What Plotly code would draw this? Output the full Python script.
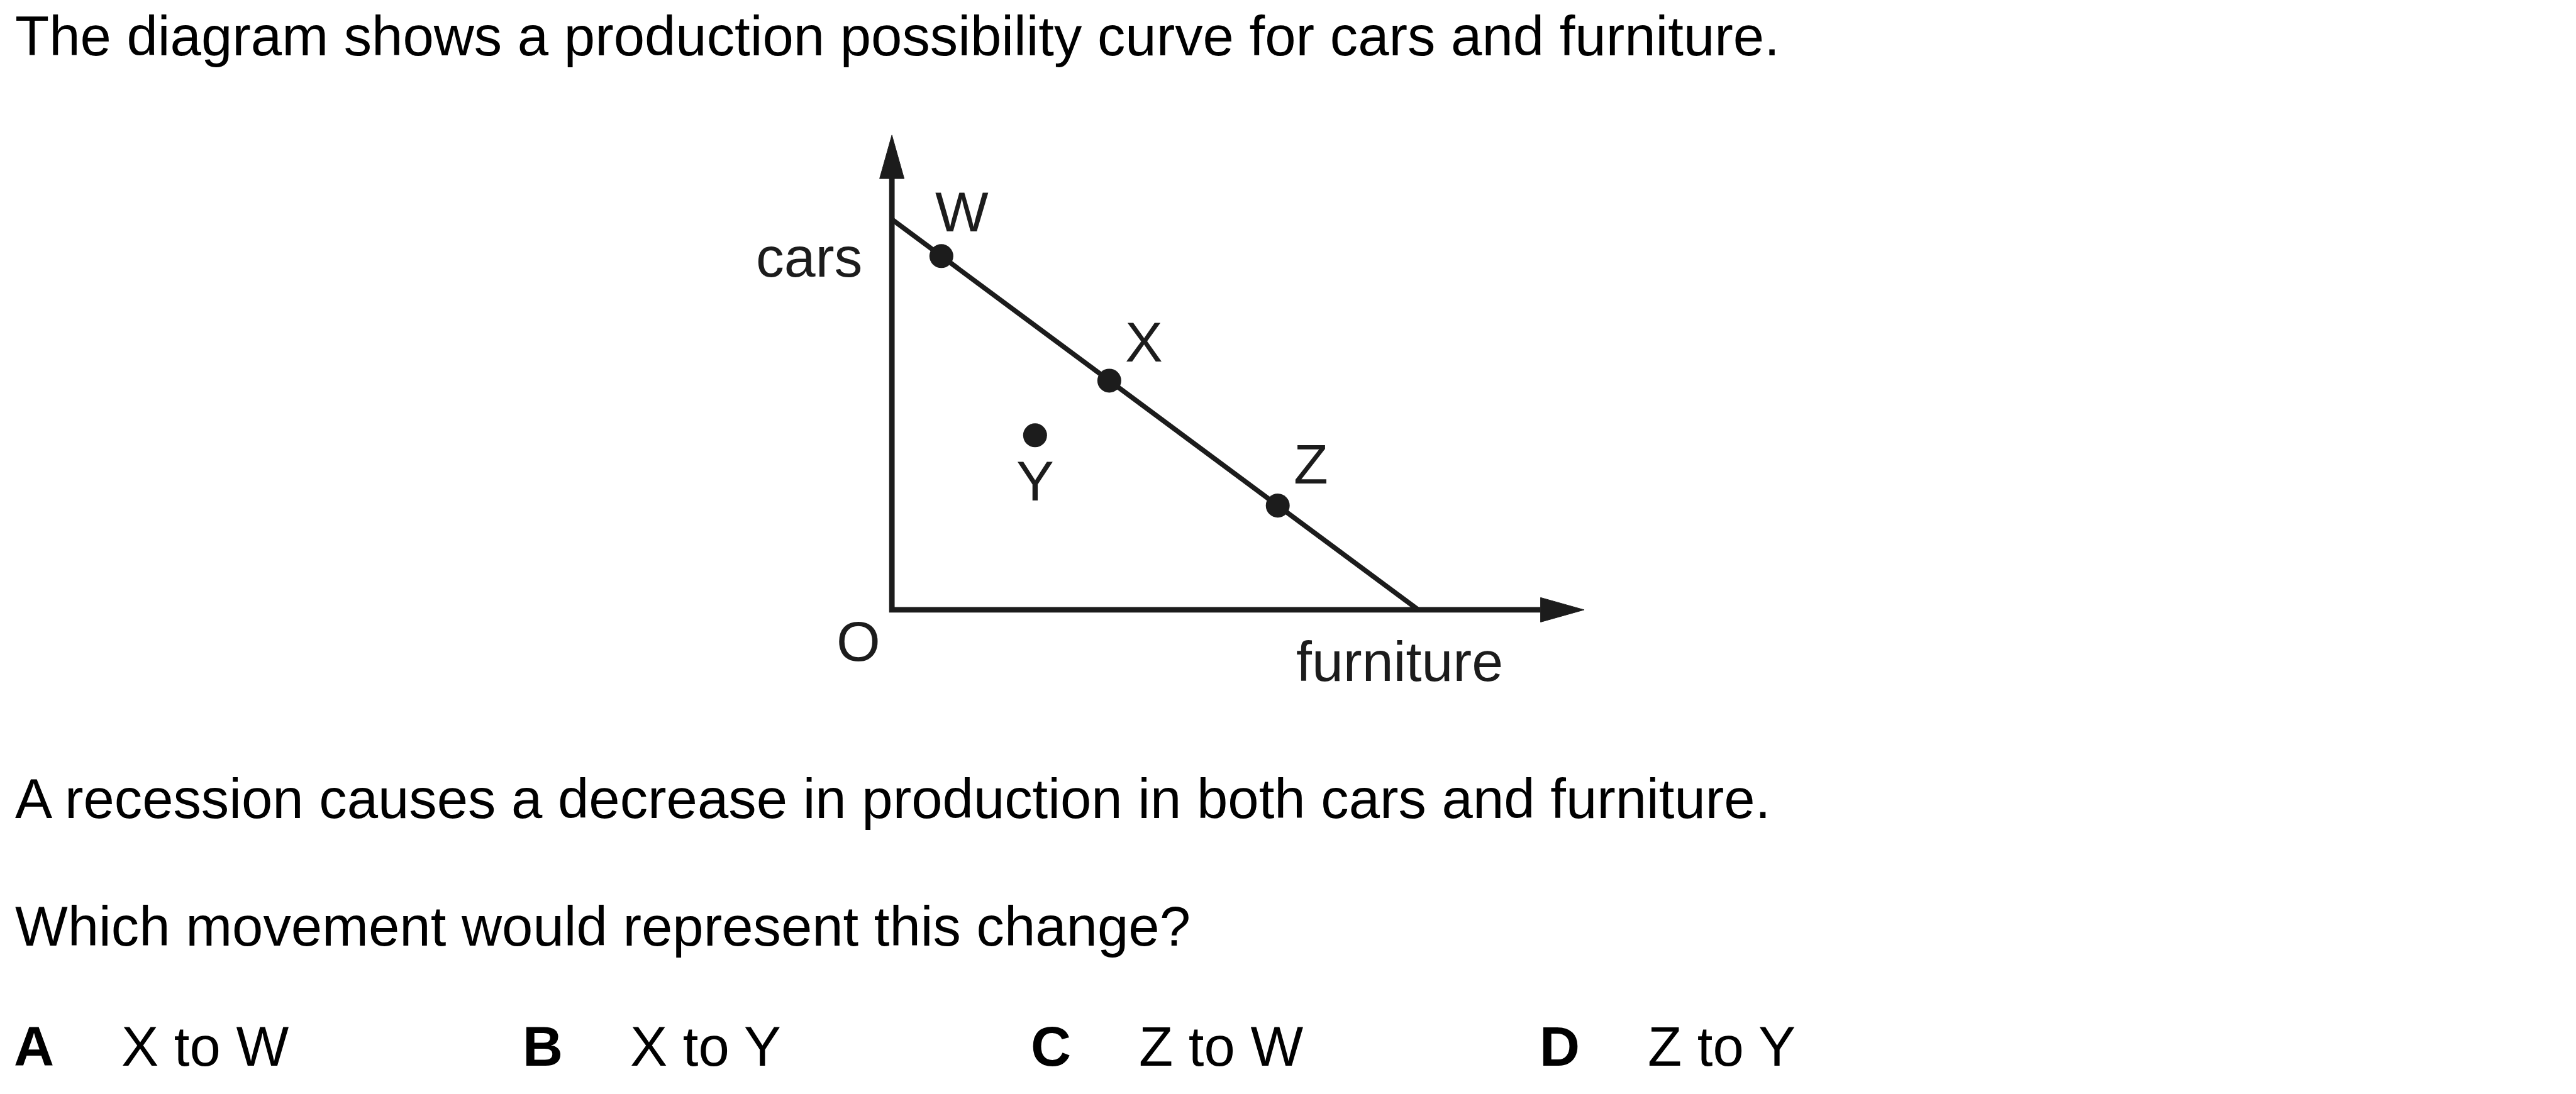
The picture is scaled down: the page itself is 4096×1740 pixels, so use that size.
import plotly.graph_objects as go

# ---------------- data ----------------
point_names = ["W", "X", "Z", "Y"]
furniture_vals = [0.94, 4.13, 7.33, 2.72]
cars_vals = [9.06, 5.87, 2.67, 4.47]

ppc_furniture = [0, 10]
ppc_cars = [10, 0]

axis_names = ["cars", "furniture", "O"]
axis_extent_furniture = 13.15   # tip of horizontal arrow (data units)
axis_extent_cars = 12.16        # tip of vertical arrow (data units)

question_top = "The diagram shows a production possibility curve for cars and furniture."
question_mid = "A recession causes a decrease in production in both cars and furniture."
question_ask = "Which movement would represent this change?"
option_letters = ["A", "B", "C", "D"]
option_texts = ["X to W", "X to Y", "Z to W", "Z to Y"]

# ---------------- layout geometry (reference pixels) ----------------
REF_W, REF_H = 4201, 1785
S = 0.975
FIG_W, FIG_H = 4096, 1740
ORIG_X, ORIG_Y = 1454.5, 995.0      # origin in reference px
UX, UY = 85.85, 63.7                # reference px per data unit

x_range = [-ORIG_X / UX, (REF_W - ORIG_X) / UX]
y_range = [-(REF_H - ORIG_Y) / UY, ORIG_Y / UY]

INK = "#1c1c1c"
FONT = "Liberation Sans, Arial, Helvetica, sans-serif"
TXT_SIZE = 91 * S
LBL_SIZE = 92 * S

ARROW_LEN = 71.0      # ref px
ARROW_HALF = 20.0     # ref px

fig = go.Figure()

# axes lines (square corner at origin)
fx_base = axis_extent_furniture - ARROW_LEN / UX
cy_base = axis_extent_cars - ARROW_LEN / UY
fig.add_trace(go.Scatter(
    x=[0, 0, fx_base], y=[cy_base, 0, 0], mode="lines",
    line=dict(color=INK, width=9 * S), hoverinfo="skip", showlegend=False))

# arrowheads
fig.add_trace(go.Scatter(
    x=[-ARROW_HALF / UX, 0, ARROW_HALF / UX, -ARROW_HALF / UX],
    y=[cy_base, axis_extent_cars, cy_base, cy_base],
    mode="lines", fill="toself", fillcolor=INK, line=dict(color=INK, width=1),
    hoverinfo="skip", showlegend=False))
fig.add_trace(go.Scatter(
    x=[fx_base, axis_extent_furniture, fx_base, fx_base],
    y=[-ARROW_HALF / UY, 0, ARROW_HALF / UY, -ARROW_HALF / UY],
    mode="lines", fill="toself", fillcolor=INK, line=dict(color=INK, width=1),
    hoverinfo="skip", showlegend=False))

# production possibility curve
fig.add_trace(go.Scatter(
    x=ppc_furniture, y=ppc_cars, mode="lines",
    line=dict(color=INK, width=8 * S), hoverinfo="skip", showlegend=False))

# points
fig.add_trace(go.Scatter(
    x=furniture_vals, y=cars_vals, mode="markers",
    marker=dict(color=INK, size=39 * S, line=dict(width=0)),
    text=point_names, hoverinfo="text", showlegend=False))

annotations = []

# point labels: offsets (ref px, +x right, +y down)
label_offsets = {"W": (34, -72), "X": (57, -63), "Z": (54.5, -67.5), "Y": (0.5, 74.5)}
for n, fx, cy in zip(point_names, furniture_vals, cars_vals):
    dx, dy = label_offsets[n]
    annotations.append(dict(
        x=fx, y=cy, xref="x", yref="y", text=n, showarrow=False,
        xanchor="center", yanchor="middle", xshift=dx * S, yshift=-dy * S,
        font=dict(family=FONT, size=LBL_SIZE, color=INK)))

# axis labels
axis_label_pos = {
    "cars": (0, ppc_cars[0], -135, 62),
    "furniture": (ppc_furniture[1], 0, -30, 84),
    "O": (0, 0, -54.5, 51),
}
for n in axis_names:
    fx, cy, dx, dy = axis_label_pos[n]
    annotations.append(dict(
        x=fx, y=cy, xref="x", yref="y", text=n, showarrow=False,
        xanchor="center", yanchor="middle", xshift=dx * S, yshift=-dy * S,
        font=dict(family=FONT, size=LBL_SIZE, color=INK)))


def para(text, x_ref, ycap_ref, bold=False):
    return dict(
        x=x_ref / REF_W, y=1 - ycap_ref / REF_H, xref="paper", yref="paper",
        text=("<b>%s</b>" % text) if bold else text, showarrow=False,
        xanchor="left", yanchor="middle",
        font=dict(family=FONT, size=TXT_SIZE, color="#000000"))


annotations.append(para(question_top, 23, 59.5))
annotations.append(para(question_mid, 23, 1303))
annotations.append(para(question_ask, 23, 1512))

letter_x = [20, 850, 1679, 2509]
for lx, letter, txt in zip(letter_x, option_letters, option_texts):
    annotations.append(para(letter, lx, 1707.5, bold=True))
    annotations.append(para(txt, lx + 176, 1707.5))

fig.update_layout(
    width=FIG_W, height=FIG_H,
    margin=dict(l=0, r=0, t=0, b=0, pad=0),
    paper_bgcolor="white", plot_bgcolor="white",
    xaxis=dict(range=x_range, visible=False, fixedrange=True),
    yaxis=dict(range=y_range, visible=False, fixedrange=True),
    annotations=annotations,
    showlegend=False,
)

fig.write_html(
    "out.html",
    config={"displayModeBar": False},
    post_script="document.body.style.margin='0';document.body.style.overflow='hidden';",
)
